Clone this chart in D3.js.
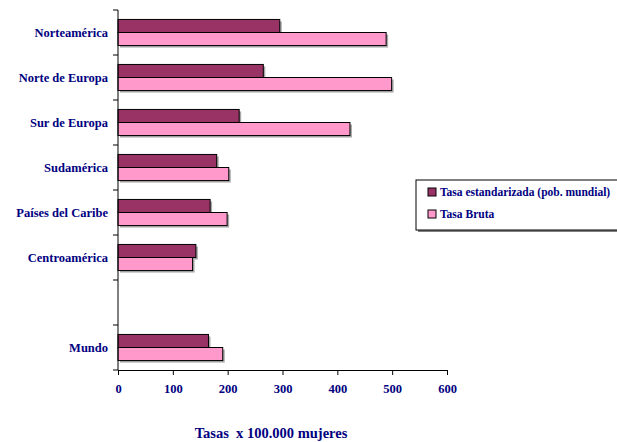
<!DOCTYPE html>
<html><head><meta charset="utf-8">
<script src="https://cdn.jsdelivr.net/npm/d3@7"></script>
<style>html,body{margin:0;padding:0;background:#fff;overflow:hidden}
svg text{font-family:"Liberation Serif","Times New Roman",serif;font-weight:bold;fill:#000080}</style>
</head><body>
<svg id="c" width="617" height="442"></svg>
<script>
const categories = ["Norteamérica","Norte de Europa","Sur de Europa","Sudamérica","Países del Caribe","Centroamérica","","Mundo"];
const seriesNames = ["Tasa estandarizada (pob. mundial)","Tasa Bruta"];
const estandarizada = [295, 265, 221, 180, 168, 142, null, 165];
const bruta = [489, 499, 423, 202, 199, 136, null, 191];
const xTicks = [0,100,200,300,400,500,600];
const axisTitle = "Tasas  x 100.000 mujeres";
const colors = ["#993366","#FF99CC"];

const svg = d3.select("#c");
const x = d3.scaleLinear().domain([0,600]).range([118,447]);
const y = d3.scaleBand().domain(d3.range(categories.length)).range([10,370]).paddingInner(0.42).paddingOuter(0.21);
const yb = d3.scaleBand().domain(d3.range(categories.length)).range([10,370]);
const sub = d3.scaleBand().domain([0,1]).range([0,y.bandwidth()]);

const data = categories.map((c,i)=>({c,i,vals:[estandarizada[i],bruta[i]]}));
const g = svg.append("g");
data.forEach(d=>{
  d.vals.forEach((v,k)=>{
    if(v==null) return;
    const y0 = y(d.i)+sub(k);
    g.append("rect").attr("x",x(0)+2).attr("y",y0+2).attr("width",x(v)-x(0)).attr("height",sub.bandwidth())
      .attr("fill","#a8a8a8");
  });
});
data.forEach(d=>{
  d.vals.forEach((v,k)=>{
    if(v==null) return;
    const y0 = y(d.i)+sub(k);
    g.append("rect").attr("x",x(0)).attr("y",y0).attr("width",x(v)-x(0)).attr("height",sub.bandwidth())
      .attr("fill",colors[k]).attr("stroke","#000").attr("stroke-width",1);
  });
});

// y axis
const ya = svg.append("g");
ya.append("line").attr("x1",118).attr("x2",118).attr("y1",10).attr("y2",370).attr("stroke","#000");
d3.range(categories.length+1).forEach(i=>{
  const yy = 10 + i*yb.bandwidth();
  ya.append("line").attr("x1",113).attr("x2",118).attr("y1",yy).attr("y2",yy).attr("stroke","#000");
});
categories.forEach((c,i)=>{
  ya.append("text").attr("x",108).attr("y",yb(i)+yb.bandwidth()/2+4).attr("text-anchor","end")
    .style("font-size","12.5px").text(c);
});

// x axis
const xa = svg.append("g").attr("transform","translate(0,370)")
  .call(d3.axisBottom(x).tickValues(xTicks).tickSize(5).tickSizeOuter(0).tickPadding(9).tickFormat(d3.format("d")));
xa.select(".domain").attr("stroke","#000");
xa.selectAll(".tick line").attr("stroke","#000");
xa.selectAll("text").attr("font-family",null).attr("font-size",null).attr("fill",null).style("font-size","12.5px");

svg.append("text").attr("x",271).attr("y",438).attr("text-anchor","middle")
  .style("font-size","14.5px").style("white-space","pre").attr("xml:space","preserve").text(axisTitle);

// legend
const lg = svg.append("g").attr("transform","translate(416,180)");
lg.append("rect").attr("x",2).attr("y",2).attr("width",260).attr("height",50).attr("fill","#808080");
lg.append("rect").attr("x",0).attr("y",0).attr("width",260).attr("height",50).attr("fill","#fff").attr("stroke","#000");
seriesNames.forEach((s,k)=>{
  const yy = 12 + k*22;
  lg.append("rect").attr("x",12).attr("y",yy-4).attr("width",8).attr("height",8).attr("fill",colors[k]).attr("stroke","#000");
  lg.append("text").attr("x",24).attr("y",yy+4).style("font-size","11.5px").text(s);
});
</script>
</body></html>
